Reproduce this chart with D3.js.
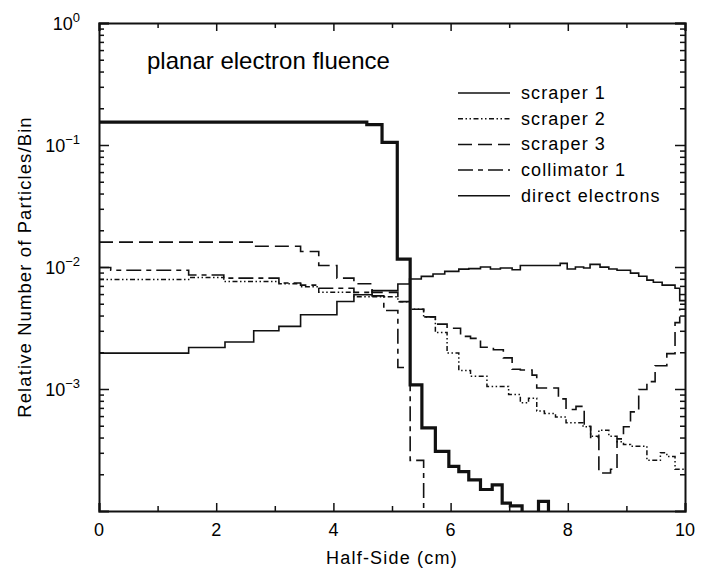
<!DOCTYPE html>
<meta charset="utf-8">
<style>
body { margin: 0; background: #fff; }
svg { font-family: "Liberation Sans", Arial, sans-serif; }
.axis path, .axis line { stroke: #111; }
.axis path { stroke-width: 2; }
.axis line { stroke-width: 1.5; }
.series { fill: none; stroke: #111; }
</style>
<svg width="702" height="573"></svg>
<script src="https://cdn.jsdelivr.net/npm/d3@7/dist/d3.min.js"></script>
<script>
// step histograms: [bin start (cm), value], last bin runs to 10
var direct = [[0, 0.154], [4.57, 0.147], [4.83, 0.105], [5.09, 0.0116], [5.31, 1.08e-3], [5.51, 4.8e-4],
  [5.74, 3.08e-4], [5.97, 2.32e-4], [6.14, 2.1e-4], [6.31, 1.8e-4], [6.51, 1.5e-4], [6.71, 1.64e-4],
  [6.88, 1.16e-4], [7.02, 1.1e-4], [7.22, 1e-5], [7.5, 1.2e-4], [7.67, 1e-5]];
var scraper1 = [[0, 1.97e-3], [1.53, 2.19e-3], [2.15, 2.43e-3], [2.64, 3.0e-3], [3.07, 3.26e-3], [3.44, 4.06e-3],
  [4.06, 5.22e-3], [4.35, 5.93e-3], [4.66, 6.4e-3], [5.1, 7.26e-3], [5.3, 7.97e-3], [5.5, 8.38e-3],
  [5.7, 8.77e-3], [5.9, 9.2e-3], [6.14, 9.6e-3], [6.31, 9.7e-3], [6.51, 1.0e-2], [6.68, 9.63e-3],
  [6.85, 9.81e-3], [7.05, 9.5e-3], [7.19, 1.03e-2], [7.87, 1.07e-2], [7.99, 9.63e-3], [8.13, 1.0e-2],
  [8.27, 9.81e-3], [8.38, 1.05e-2], [8.55, 9.98e-3], [8.70, 9.63e-3], [8.84, 9.4e-3], [9.07, 8.9e-3],
  [9.21, 8.4e-3], [9.35, 7.8e-3], [9.46, 7.5e-3], [9.61, 7.1e-3], [9.83, 6.7e-3], [9.91, 5.3e-3]];
var scraper2 = [[0, 7.9e-3], [1.53, 8.2e-3], [2.13, 7.6e-3], [3.07, 7.3e-3], [3.44, 6.9e-3], [3.75, 6.2e-3],
  [4.35, 5.7e-3], [5.1, 5.2e-3], [5.31, 4.5e-3], [5.54, 3.9e-3], [5.74, 2.9e-3], [5.94, 1.97e-3],
  [6.14, 1.42e-3], [6.34, 1.27e-3], [6.62, 1.05e-3], [6.99, 9.0e-4], [7.19, 7.7e-4], [7.33, 8.4e-4],
  [7.47, 6.6e-4], [7.6, 6.3e-4], [7.79, 5.9e-4], [7.97, 5.3e-4], [8.26, 4.9e-4], [8.39, 4.1e-4],
  [8.53, 4.6e-4], [8.7, 4.1e-4], [8.84, 3.7e-4], [8.95, 3.5e-4], [9.07, 3.4e-4], [9.35, 2.6e-4],
  [9.58, 3.0e-4], [9.69, 2.8e-4], [9.83, 2.2e-4]];
var scraper3 = [[0, 1.6e-2], [2.64, 1.48e-2], [3.44, 1.34e-2], [3.75, 1.03e-2], [4.06, 8.1e-3], [4.35, 7.3e-3],
  [4.66, 6.2e-3], [5.1, 5.2e-3], [5.31, 4.5e-3], [5.54, 3.9e-3], [5.74, 3.4e-3], [5.94, 3.15e-3],
  [6.17, 2.7e-3], [6.34, 2.6e-3], [6.51, 2.2e-3], [6.73, 2.1e-3], [6.9, 1.8e-3], [7.05, 1.45e-3],
  [7.19, 1.43e-3], [7.39, 1.3e-3], [7.47, 1.02e-3], [7.84, 8.3e-4], [7.97, 6.8e-4], [8.14, 7.2e-4],
  [8.28, 4.95e-4], [8.39, 4.0e-4], [8.53, 2.05e-4], [8.73, 2.2e-4], [8.84, 3.9e-4], [8.95, 4.9e-4],
  [9.07, 6.5e-4], [9.21, 9.9e-4], [9.35, 1.15e-3], [9.49, 1.55e-3], [9.69, 1.95e-3], [9.83, 3.5e-3],
  [9.91, 4.5e-3]];
var collimator1 = [[0, 9.9e-3], [0.2, 9.4e-3], [1.53, 8.6e-3], [2.13, 8.1e-3], [3.07, 7.4e-3], [3.44, 7.1e-3],
  [3.75, 6.7e-3], [4.35, 6.2e-3], [4.66, 5.8e-3], [4.86, 4.4e-3], [5.1, 1.5e-3], [5.31, 2.6e-4], [5.54, 1e-5]];

var legendLabels = ["scraper 1", "scraper 2", "scraper 3", "collimator 1", "direct electrons"];
var xTicks = d3.range(0, 11);
var yMajor = [1, 1e-1, 1e-2, 1e-3];
var yLabelExp = ["0", "\u22121", "\u22122", "\u22123"];

var svg = d3.select("svg");
var x = d3.scaleLinear().domain([0, 10]).range([99, 685]);
var y = d3.scaleLog().domain([1e-4, 1]).range([511, 23]);

// minor ticks for each decade
var yMinor = [];
[1e-4, 1e-3, 1e-2, 1e-1].forEach(function(d) {
  for (var k = 2; k <= 9; k++) yMinor.push(d * k);
});

function drawX(gen, ty, sign) {
  var g = svg.append("g").attr("class", "axis").attr("transform", "translate(0," + ty + ")");
  g.call(gen.tickValues(xTicks.filter(function(d) { return d % 2 == 0; })).tickSize(sign * 8).tickFormat(""));
  g.append("g").call(gen.tickValues(xTicks.filter(function(d) { return d % 2 == 1; })).tickSize(sign * 5).tickFormat(""))
    .select(".domain").remove();
  return g;
}
drawX(d3.axisBottom(x), 511, -1);
drawX(d3.axisTop(x), 23, -1);

function drawY(gen, tx, sign) {
  var g = svg.append("g").attr("class", "axis").attr("transform", "translate(" + tx + ",0)");
  g.call(gen.tickValues(yMajor).tickSize(sign * 10).tickFormat(""));
  g.append("g").call(gen.tickValues(yMinor).tickSize(sign * 5).tickFormat(""))
    .select(".domain").remove();
}
drawY(d3.axisLeft(y), 99, -1);
drawY(d3.axisRight(y), 685, -1);

// x tick labels
svg.selectAll(".xlab").data(xTicks.filter(function(d) { return d % 2 == 0; })).enter()
  .append("text").attr("class", "xlab")
  .attr("x", function(d) { return x(d); }).attr("y", 536)
  .attr("text-anchor", "middle").attr("font-size", 18)
  .text(function(d) { return d; });

// y tick labels 10^n
var yl = svg.selectAll(".ylab").data(yMajor).enter()
  .append("text").attr("class", "ylab")
  .attr("x", 80).attr("y", function(d) { return y(d) + 6.5; })
  .attr("text-anchor", "end").attr("font-size", 18);
yl.append("tspan").text("10");
yl.append("tspan").attr("font-size", 13).attr("dy", -8)
  .text(function(d, i) { return yLabelExp[i]; });

svg.append("text").attr("x", 392).attr("y", 564).attr("text-anchor", "middle")
  .attr("font-size", 18).attr("letter-spacing", 1.2).text("Half-Side (cm)");
svg.append("text").attr("transform", "translate(31,267) rotate(-90)").attr("text-anchor", "middle")
  .attr("font-size", 18.5).attr("letter-spacing", 1.1).text("Relative Number of Particles/Bin");

svg.append("text").attr("x", 147).attr("y", 69).attr("font-size", 24)
  .text("planar electron fluence");

// data
svg.append("clipPath").attr("id", "plot").append("rect")
  .attr("x", 99).attr("y", 23).attr("width", 586).attr("height", 488);

var line = d3.line()
  .x(function(d) { return x(d[0]); })
  .y(function(d) { return y(d[1]); })
  .curve(d3.curveStepAfter);

var series = [
  {data: scraper1, width: 1.6, dash: null},
  {data: scraper2, width: 1.5, dash: "5,2.5,1.5,2.5,1.5,2.5"},
  {data: scraper3, width: 1.6, dash: "14,6"},
  {data: collimator1, width: 1.6, dash: "15,5,5,5"},
  {data: direct, width: 3.2, dash: null}
];

var plot = svg.append("g").attr("clip-path", "url(#plot)");
series.forEach(function(s) {
  var pts = s.data.concat([[10, s.data[s.data.length - 1][1]]]);
  plot.append("path").attr("class", "series")
    .attr("d", line(pts))
    .attr("stroke-width", s.width)
    .attr("stroke-dasharray", s.dash);
});

// legend
var leg = svg.append("g");
legendLabels.forEach(function(name, i) {
  var ly = 93 + i * 25.7;
  leg.append("line").attr("x1", 458).attr("x2", 510).attr("y1", ly).attr("y2", ly)
    .attr("stroke", "#111").attr("stroke-width", 1.5)
    .attr("stroke-dasharray", series[i].dash);
  leg.append("text").attr("x", 521).attr("y", ly + 6).attr("font-size", 18)
    .attr("letter-spacing", 1.1).text(name);
});
</script>
